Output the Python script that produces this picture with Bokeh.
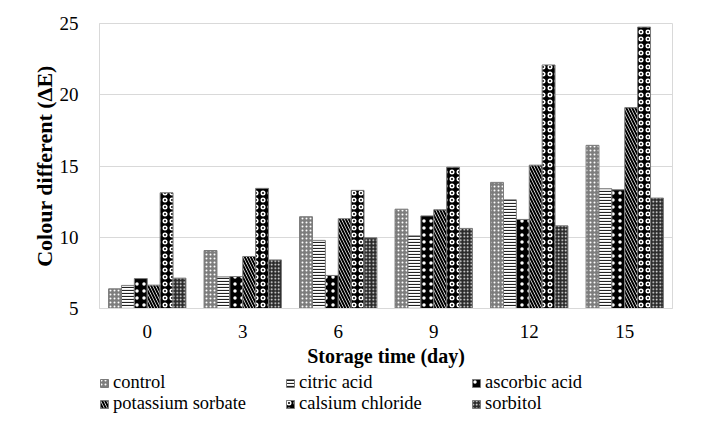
from bokeh.plotting import figure
from bokeh.layouts import column
from bokeh.models import ColumnDataSource, FactorRange, Legend, LegendItem, FixedTicker, Range1d
from bokeh.transform import dodge
from bokeh.embed import file_html
from bokeh.resources import INLINE

days = ["0", "3", "6", "9", "12", "15"]
control = [6.38, 9.07, 11.44, 11.97, 13.85, 16.45]
citric_acid = [6.62, 7.22, 9.78, 10.10, 12.63, 13.40]
ascorbic_acid = [7.10, 7.24, 7.32, 11.50, 11.25, 13.33]
potassium_sorbate = [6.64, 8.65, 11.30, 11.93, 15.06, 19.10]
calsium_chloride = [13.12, 13.43, 13.29, 14.92, 22.09, 24.75]
sorbitol = [7.13, 8.41, 9.96, 10.62, 10.80, 12.75]

series = [
    ("control", control),
    ("citric acid", citric_acid),
    ("ascorbic acid", ascorbic_acid),
    ("potassium sorbate", potassium_sorbate),
    ("calsium chloride", calsium_chloride),
    ("sorbitol", sorbitol),
]

styles = [
    dict(fill_color="#7d7d7d", hatch_pattern="dot", hatch_color="white", hatch_scale=4, hatch_weight=1),
    dict(fill_color="white", hatch_pattern="horizontal_line", hatch_color="#222222", hatch_scale=3, hatch_weight=1.2),
    dict(fill_color="black", hatch_pattern="dot", hatch_color="white", hatch_scale=7, hatch_weight=0.6),
    dict(fill_color="white", hatch_pattern="left_diagonal_line", hatch_color="black", hatch_scale=6, hatch_weight=2),
    dict(fill_color="black", hatch_pattern="ring", hatch_color="white", hatch_scale=7, hatch_weight=1.5),
    dict(fill_color="#2a2a2a", hatch_pattern="dot", hatch_color="white", hatch_scale=3.5, hatch_weight=1),
]

data = {"days": days}
for name, vals in series:
    data[name] = vals
source = ColumnDataSource(data)

FONT = "Liberation Serif"

p = figure(x_range=FactorRange(*days), y_range=(5, 25), width=705, height=372,
           output_backend="svg", toolbar_location=None,
           min_border_left=96, min_border_right=33, min_border_top=23, min_border_bottom=64)

bw = 0.135
for i, (name, vals) in enumerate(series):
    off = (i - 2.5) * bw
    p.vbar(x=dodge("days", off, range=p.x_range), top=name, bottom=5, width=bw,
           source=source, line_color="#7a7a7a", line_width=1, **styles[i])

p.outline_line_color = "#d9d9d9"
p.xgrid.grid_line_color = None
p.ygrid.grid_line_color = "#d9d9d9"
p.ygrid.grid_line_width = 1

p.yaxis.ticker = FixedTicker(ticks=[5, 10, 15, 20, 25])
for ax in (p.xaxis, p.yaxis):
    ax.axis_line_color = "#d9d9d9"
    ax.major_tick_line_color = None
    ax.minor_tick_line_color = None
    ax.major_label_text_font = FONT
    ax.major_label_text_font_size = "19px"
    ax.major_label_text_color = "black"
    ax.axis_label_text_font = FONT
    ax.axis_label_text_font_style = "bold"
    ax.axis_label_text_color = "black"

p.xaxis.axis_label = "Storage time (day)"
p.yaxis.axis_label = "Colour different (ΔE)"
p.xaxis.axis_label_text_font_size = "20px"
p.yaxis.axis_label_text_font_size = "22px"
p.xaxis.major_label_standoff = 10
p.yaxis.major_label_standoff = 15
p.xaxis.axis_label_standoff = 4
p.yaxis.axis_label_standoff = 0

# legend strip: same series, drawn in a figure whose view shows only the legend
lf = figure(x_range=FactorRange(*days), y_range=Range1d(100, 101), width=705, height=48,
            output_backend="svg", toolbar_location=None,
            min_border_left=99, min_border_right=10, min_border_top=0, min_border_bottom=0)
lf.axis.visible = False
lf.grid.grid_line_color = None
lf.outline_line_color = None
items = []
for i, (name, vals) in enumerate(series):
    r = lf.vbar(x="days", top=name, bottom=5, width=bw, source=source,
                line_color="#7a7a7a", line_width=1, **styles[i])
    items.append(LegendItem(label=name, renderers=[r]))

lg = Legend(items=items, orientation="horizontal", ncols=3, location="top_left",
            label_width=172, glyph_width=10, glyph_height=10,
            label_standoff=4, spacing=0, padding=0, margin=0,
            label_height=19, border_line_color=None, background_fill_alpha=0)
lg.label_text_font = FONT
lg.label_text_font_size = "18.5px"
lg.label_text_color = "black"
lf.add_layout(lg, "center")

layout = column(p, lf, spacing=0)
open("out.html", "w").write(file_html(layout, INLINE))
